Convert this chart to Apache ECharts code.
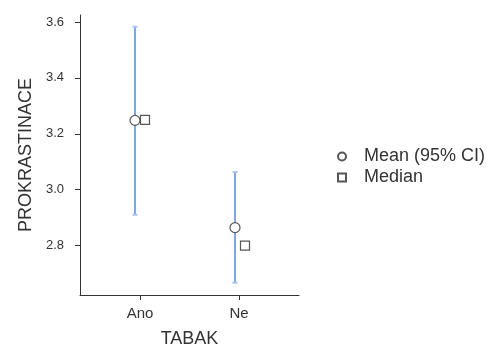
<!DOCTYPE html>
<html>
<head>
<meta charset="utf-8">
<script src="https://cdn.jsdelivr.net/npm/echarts@6/dist/echarts.min.js"></script>
<style>html,body{margin:0;padding:0;background:#fff}#c{width:503px;height:347px}</style>
</head>
<body>
<div id="c"></div>
<script>
const categories = ["Ano", "Ne"];
const means = [3.248, 2.864];
const ciLow = [2.910, 2.667];
const ciHigh = [3.583, 3.063];
const medians = [3.25, 2.80];
const yTicks = [2.8, 3.0, 3.2, 3.4, 3.6];
const xTickPos = [0.05, 1.04];

const FONT = "Liberation Sans";
const chart = echarts.init(document.getElementById('c'));
const errData = categories.map((c, i) => [i, ciLow[i], ciHigh[i]]);
chart.setOption({
  animation: false,
  textStyle: { fontFamily: FONT },
  grid: { left: 80, right: 204, top: 15, bottom: 52, containLabel: false, outerBoundsMode: 'none' },
  xAxis: {
    type: 'value', min: -0.55, max: 1.64,
    name: 'TABAK', nameLocation: 'middle', nameGap: 35,
    nameTextStyle: { fontFamily: FONT, fontSize: 18, color: '#333' },
    splitLine: { show: false },
    axisLine: { show: true, onZero: false, lineStyle: { color: '#333', width: 1 } },
    axisTick: { show: true, length: 5, customValues: xTickPos, lineStyle: { color: '#333' } },
    axisLabel: { customValues: xTickPos, margin: 11, fontSize: 15, color: '#333', fontFamily: FONT,
      formatter: v => categories[Math.round(v)] }
  },
  yAxis: {
    type: 'value', min: 2.623, max: 3.625,
    name: 'PROKRASTINACE', nameLocation: 'middle', nameGap: 45,
    nameTextStyle: { fontFamily: FONT, fontSize: 18, color: '#333' },
    splitLine: { show: false },
    axisLine: { show: true, onZero: false, lineStyle: { color: '#333', width: 1 } },
    axisTick: { show: true, length: 5, customValues: yTicks, lineStyle: { color: '#333' } },
    axisLabel: { customValues: yTicks, margin: 16, fontSize: 13, color: '#333', fontFamily: FONT,
      formatter: v => v.toFixed(1) }
  },
  legend: {
    orient: 'vertical', left: 337, top: 146, itemWidth: 8, itemHeight: 8, itemGap: 0, padding: 0,
    data: ['Mean (95% CI)', 'Median'],
    textStyle: { fontFamily: FONT, fontSize: 18, color: '#333', lineHeight: 21, padding: [0, 0, 0, 13] }
  },
  series: [
    {
      type: 'custom', name: 'CI',
      data: errData,
      renderItem: (params, api) => {
        const x = api.value(0);
        const lo = api.coord([x, api.value(1)]);
        const hi = api.coord([x, api.value(2)]);
        const st = { stroke: '#7ba6ef', lineWidth: 2 };
        const cap = { stroke: '#a8c4f4', lineWidth: 2 };
        return { type: 'group', children: [
          { type: 'line', shape: { x1: lo[0], y1: lo[1], x2: hi[0], y2: hi[1] }, style: st },
          { type: 'line', shape: { x1: lo[0] - 2.5, y1: lo[1], x2: lo[0] + 2.5, y2: lo[1] }, style: cap },
          { type: 'line', shape: { x1: hi[0] - 2.5, y1: hi[1], x2: hi[0] + 2.5, y2: hi[1] }, style: cap }
        ]};
      },
      z: 1
    },
    {
      type: 'scatter', name: 'Mean (95% CI)',
      data: means.map((m, i) => [i, m]),
      symbol: 'circle', symbolSize: 10,
      itemStyle: { color: '#fff', borderColor: '#555', borderWidth: 1.2, opacity: 1 },
      z: 3
    },
    {
      type: 'scatter', name: 'Median',
      data: medians.map((m, i) => [i, m]),
      symbol: 'rect', symbolSize: 9, symbolOffset: [10, 0],
      itemStyle: { color: '#fff', borderColor: '#555', borderWidth: 1.2, opacity: 1 },
      z: 3
    }
  ]
});
</script>
</body>
</html>
